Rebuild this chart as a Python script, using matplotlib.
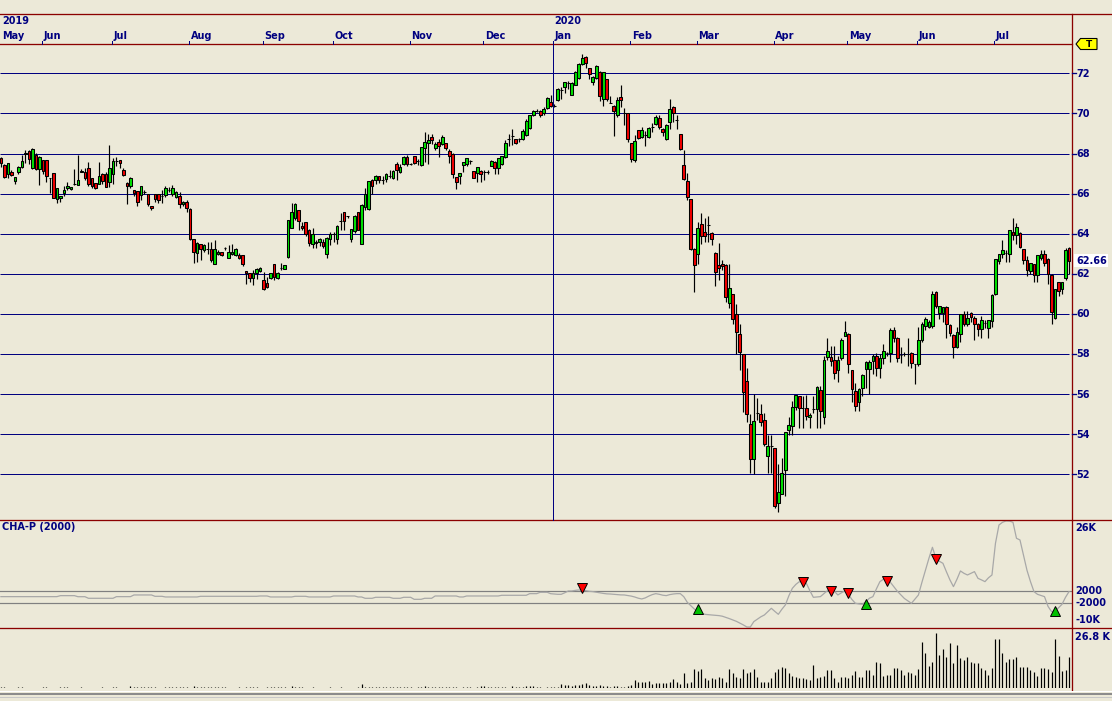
import matplotlib
matplotlib.use('Agg')
import matplotlib.pyplot as plt
import numpy as np
import pandas as pd
from matplotlib.patches import Polygon, Rectangle

# ---------------- data ----------------
holidays = ['2019-05-20', '2019-07-01', '2019-08-05', '2019-09-02', '2019-10-14',
            '2019-12-25', '2019-12-26', '2020-01-01', '2020-02-17', '2020-04-10',
            '2020-05-18', '2020-07-01']
dates = pd.bdate_range('2019-05-15', '2020-07-31')
dates = dates[~dates.isin(pd.to_datetime(holidays))]

opens = [
    67.80, 67.42, 67.00, 67.09, 66.64, 67.09, 67.35, 68.00, 68.13, 67.30,
    67.92, 67.22, 67.67, 67.70, 66.80, 67.05, 65.72, 65.76, 66.04, 66.29,
    66.25, 66.49, 66.45, 67.10, 67.10, 67.30, 66.80, 66.55, 66.50, 67.00,
    67.00, 66.60, 67.00, 67.62, 67.67, 67.20, 66.55, 66.39, 66.17, 66.12,
    65.95, 66.09, 65.97, 65.36, 65.97, 66.00, 65.90, 65.94, 66.20, 66.00,
    65.84, 65.86, 65.46, 65.56, 65.25, 63.76, 63.03, 63.48, 63.20, 63.26,
    63.26, 62.51, 63.00, 63.08, 63.30, 62.78, 62.98, 62.95, 62.95, 62.93,
    62.15, 62.03, 61.78, 62.06, 62.16, 61.70, 61.53, 61.80, 62.50, 61.80,
    62.30, 62.26, 62.85, 64.30, 64.80, 65.17, 64.40, 64.60, 64.20, 63.50,
    63.55, 63.60, 63.60, 63.00, 63.76, 63.97, 63.76, 64.65, 65.10, 64.86,
    63.73, 64.14, 65.10, 63.50, 65.34, 65.25, 66.70, 66.70, 66.86, 66.70,
    66.72, 66.90, 66.78, 67.49, 67.10, 67.47, 67.82, 67.49, 67.88, 67.65,
    67.41, 68.30, 68.52, 68.82, 68.27, 68.57, 68.48, 68.52, 68.14, 67.98,
    66.83, 66.86, 67.41, 67.47, 67.62, 67.14, 67.02, 67.14, 67.07, 67.10,
    67.39, 67.60, 67.30, 67.47, 67.85, 68.75, 68.90, 68.72, 68.72, 68.72,
    68.93, 69.25, 69.91, 70.12, 70.12, 70.03, 70.25, 70.55, 70.38, 70.67,
    71.17, 71.34, 71.50, 70.92, 71.42, 71.75, 72.46, 72.80, 72.25, 71.59,
    71.75, 72.08, 70.70, 71.70, 70.54, 70.37, 69.90, 70.80, 70.00, 70.00,
    68.52, 67.69, 69.15, 68.85, 68.93, 68.85, 69.30, 69.46, 69.76, 69.23,
    68.72, 69.56, 70.31, 69.68, 68.97, 67.44, 66.64, 65.73, 63.24, 62.99,
    64.50, 64.07, 64.42, 64.04, 63.04, 62.46, 62.50, 62.42, 60.55, 61.00,
    59.97, 59.00, 58.00, 56.67, 54.50, 52.75, 55.05, 55.00, 54.72, 52.90,
    53.40, 53.30, 50.55, 51.00, 52.22, 54.18, 54.42, 55.33, 55.88, 55.30,
    55.30, 54.85, 55.25, 55.25, 56.22, 54.85, 57.85, 57.85, 57.72, 57.22,
    57.80, 58.92, 59.00, 57.20, 56.17, 55.58, 56.30, 57.25, 57.25, 57.63,
    57.92, 57.30, 57.80, 58.05, 58.05, 59.17, 58.80, 57.97, 58.00, 58.00,
    58.05, 57.50, 57.50, 58.68, 59.38, 59.35, 59.38, 61.10, 60.05, 60.05,
    60.35, 59.42, 58.97, 58.35, 59.00, 60.00, 59.50, 60.05, 59.77, 59.50,
    59.22, 59.55, 59.30, 59.63, 61.00, 62.63, 63.00, 63.05, 62.97, 64.08,
    63.92, 64.05, 63.25, 62.67, 62.13, 62.50, 61.93, 62.80, 62.97, 62.72,
    61.92, 59.80, 61.58, 61.25, 61.80, 63.30]

highs = [
    67.85, 67.50, 67.55, 67.20, 66.85, 67.40, 67.92, 68.20, 68.20, 68.27,
    68.05, 67.90, 67.70, 67.70, 66.80, 67.05, 66.30, 65.90, 66.40, 66.60,
    66.35, 67.25, 67.92, 67.25, 67.30, 67.60, 66.80, 66.55, 67.60, 67.05,
    67.10, 68.42, 67.80, 67.85, 67.67, 67.30, 66.60, 66.85, 66.20, 66.12,
    66.40, 66.20, 65.97, 65.36, 65.97, 66.00, 66.20, 66.40, 66.35, 66.45,
    66.15, 66.10, 65.65, 65.70, 65.30, 63.76, 63.60, 63.50, 63.50, 63.60,
    63.60, 63.70, 63.20, 63.10, 63.35, 63.45, 63.50, 63.30, 63.05, 62.95,
    62.15, 62.05, 62.20, 62.30, 62.32, 62.10, 61.85, 62.05, 62.50, 62.10,
    62.56, 62.46, 64.67, 65.55, 65.55, 65.20, 64.60, 64.60, 64.25, 64.30,
    63.70, 63.80, 63.76, 63.82, 64.10, 64.10, 64.45, 65.05, 65.10, 64.90,
    64.25, 64.95, 65.10, 65.50, 66.30, 66.62, 66.75, 66.95, 66.90, 66.90,
    67.05, 67.20, 67.20, 67.60, 67.50, 67.90, 67.95, 67.55, 67.90, 67.75,
    68.35, 69.06, 69.00, 69.00, 68.60, 68.75, 68.95, 68.55, 68.25, 68.05,
    66.85, 67.05, 67.60, 67.80, 67.70, 67.15, 67.35, 67.20, 67.20, 67.20,
    67.70, 67.65, 67.78, 67.90, 68.70, 69.00, 69.20, 68.75, 68.80, 69.20,
    69.70, 69.92, 70.15, 70.20, 70.15, 70.30, 70.80, 70.90, 70.45, 71.25,
    71.30, 71.58, 71.60, 71.55, 72.10, 72.50, 72.95, 72.85, 72.25, 71.85,
    72.40, 72.10, 72.05, 71.70, 70.85, 70.40, 70.80, 71.40, 70.25, 70.00,
    68.52, 68.95, 69.15, 69.30, 69.10, 69.30, 69.50, 69.90, 69.90, 69.25,
    69.45, 70.70, 70.35, 69.90, 68.97, 68.20, 67.05, 65.75, 63.30, 64.60,
    65.05, 64.80, 64.90, 64.10, 63.10, 63.55, 62.70, 62.50, 62.50, 61.00,
    60.50, 59.50, 58.00, 57.30, 55.00, 56.00, 55.80, 55.50, 55.05, 53.95,
    53.95, 53.30, 52.50, 52.80, 54.10, 54.85, 55.67, 55.93, 55.90, 55.88,
    55.97, 55.05, 55.88, 56.38, 56.38, 57.88, 58.80, 58.38, 58.38, 57.88,
    58.80, 59.63, 59.05, 57.20, 56.55, 56.30, 57.00, 57.65, 57.70, 58.00,
    58.05, 58.00, 58.50, 58.10, 59.30, 59.35, 58.85, 58.33, 58.10, 58.80,
    58.10, 57.50, 59.35, 59.60, 59.85, 59.70, 61.15, 61.15, 60.40, 60.33,
    60.38, 59.50, 59.00, 59.33, 60.00, 60.15, 60.15, 60.10, 59.90, 59.55,
    59.90, 59.70, 59.70, 61.00, 62.75, 63.00, 63.70, 63.20, 64.17, 64.80,
    64.55, 64.10, 63.25, 62.90, 62.55, 62.50, 62.92, 63.20, 63.20, 62.80,
    62.00, 61.25, 61.60, 61.60, 63.30, 63.33]

lows = [
    67.35, 66.80, 66.80, 66.90, 66.50, 67.00, 67.30, 67.55, 67.50, 67.25,
    67.20, 66.45, 67.00, 66.60, 66.05, 65.80, 65.55, 65.60, 65.90, 66.20,
    66.20, 66.45, 66.45, 67.10, 66.70, 66.40, 66.30, 66.25, 66.50, 66.50,
    66.35, 66.35, 66.50, 67.40, 67.30, 66.90, 65.47, 66.30, 65.90, 65.40,
    65.70, 66.00, 65.40, 65.20, 65.60, 65.55, 65.55, 65.85, 66.10, 65.90,
    65.80, 65.30, 65.40, 65.10, 63.70, 62.56, 62.60, 62.70, 63.10, 63.00,
    62.60, 62.50, 62.95, 62.90, 63.20, 62.78, 62.95, 62.90, 62.75, 62.40,
    61.50, 61.60, 61.45, 61.75, 62.10, 61.20, 61.30, 61.75, 61.70, 61.75,
    62.20, 62.25, 62.80, 64.30, 64.70, 64.20, 64.20, 63.90, 63.40, 63.30,
    63.30, 63.40, 63.30, 62.80, 63.45, 63.60, 63.50, 64.20, 64.20, 64.80,
    63.60, 64.05, 64.20, 63.50, 65.20, 65.20, 66.00, 66.50, 66.55, 66.50,
    66.60, 66.80, 66.75, 66.67, 67.05, 67.45, 67.40, 67.45, 67.50, 67.45,
    67.40, 67.60, 67.50, 68.50, 68.20, 67.85, 68.45, 68.20, 67.55, 66.80,
    66.25, 66.50, 67.10, 67.40, 67.50, 66.80, 66.60, 66.60, 66.70, 67.00,
    67.38, 67.00, 67.00, 67.45, 67.80, 68.40, 68.45, 68.50, 68.60, 68.70,
    68.90, 69.20, 69.85, 70.05, 69.80, 69.90, 70.20, 70.30, 70.30, 70.60,
    70.70, 71.00, 71.20, 70.90, 71.40, 71.70, 72.40, 72.25, 71.70, 71.40,
    71.70, 70.60, 70.37, 70.60, 70.50, 68.90, 69.80, 70.30, 69.43, 68.60,
    67.60, 67.60, 68.72, 68.80, 68.40, 68.80, 69.05, 69.40, 69.20, 68.90,
    68.70, 69.20, 69.55, 69.20, 68.20, 66.70, 65.70, 63.20, 61.10, 62.50,
    63.50, 63.60, 63.60, 63.45, 61.40, 61.70, 62.20, 60.60, 60.30, 59.47,
    58.00, 57.20, 55.10, 54.60, 52.05, 52.00, 54.70, 54.40, 53.40, 52.05,
    52.05, 50.30, 50.10, 51.00, 50.90, 53.97, 53.97, 55.20, 54.30, 54.30,
    54.70, 54.30, 55.05, 54.30, 54.30, 54.50, 57.70, 57.38, 56.75, 56.60,
    57.70, 58.90, 57.05, 55.60, 55.13, 55.13, 55.90, 56.30, 56.00, 57.00,
    56.90, 56.80, 57.50, 57.90, 57.60, 58.60, 57.60, 57.55, 57.90, 57.40,
    57.30, 56.50, 57.40, 58.60, 59.20, 59.30, 59.30, 60.30, 59.75, 59.60,
    58.80, 58.90, 57.80, 58.30, 58.60, 59.40, 59.40, 59.60, 58.70, 58.90,
    58.80, 59.30, 58.80, 59.35, 60.95, 62.50, 62.80, 62.60, 62.60, 63.70,
    63.50, 63.30, 62.50, 61.90, 62.00, 61.60, 61.60, 62.70, 62.40, 61.50,
    59.50, 59.75, 60.90, 61.00, 61.70, 62.00]

closes = [
    67.55, 66.85, 67.55, 66.95, 66.85, 67.35, 67.63, 68.05, 67.75, 68.25,
    67.22, 67.85, 67.15, 66.87, 66.79, 65.80, 66.30, 65.90, 66.17, 66.40,
    66.35, 66.50, 66.70, 67.12, 66.79, 66.50, 66.39, 66.30, 66.90, 66.62,
    66.35, 67.30, 67.62, 67.62, 67.53, 66.94, 66.39, 66.80, 66.05, 65.59,
    66.40, 66.09, 65.49, 65.27, 65.72, 65.69, 65.90, 66.30, 66.20, 66.30,
    66.10, 65.46, 65.57, 65.26, 63.73, 63.10, 63.56, 63.23, 63.43, 63.26,
    62.70, 63.26, 63.10, 62.95, 63.30, 63.10, 63.08, 63.26, 62.81, 62.51,
    62.03, 61.77, 62.06, 62.26, 62.30, 61.23, 61.35, 62.02, 61.84, 62.06,
    62.30, 62.46, 64.67, 65.10, 65.50, 64.64, 64.26, 64.00, 63.56, 64.00,
    63.60, 63.76, 63.40, 63.80, 64.00, 63.97, 64.40, 64.65, 64.64, 64.86,
    64.22, 64.90, 64.20, 65.44, 66.00, 66.62, 66.36, 66.90, 66.66, 66.70,
    66.99, 66.90, 67.14, 67.19, 67.32, 67.85, 67.49, 67.49, 67.55, 67.65,
    68.32, 68.57, 68.68, 68.68, 68.48, 68.38, 68.82, 68.27, 67.90, 66.97,
    66.56, 67.03, 67.57, 67.77, 67.62, 66.80, 67.32, 66.98, 67.07, 67.10,
    67.64, 67.27, 67.77, 67.89, 68.52, 68.75, 68.90, 68.55, 68.72, 69.10,
    69.63, 69.91, 70.14, 70.12, 69.91, 70.20, 70.75, 70.38, 70.38, 71.20,
    71.17, 71.55, 71.50, 71.50, 72.08, 72.45, 72.75, 72.50, 71.95, 71.83,
    72.36, 70.89, 72.05, 70.70, 70.54, 70.10, 70.67, 70.69, 70.00, 68.72,
    67.72, 68.63, 68.77, 69.15, 68.93, 69.26, 69.30, 69.80, 69.31, 69.06,
    69.43, 70.21, 70.00, 69.68, 68.22, 66.73, 65.83, 63.24, 62.45, 64.29,
    63.87, 63.90, 64.42, 63.74, 62.08, 62.30, 62.40, 60.83, 61.27, 59.72,
    59.08, 58.08, 56.10, 55.00, 52.75, 54.67, 55.05, 54.60, 53.50, 53.43,
    53.40, 50.42, 51.10, 52.05, 54.10, 54.43, 55.33, 55.93, 55.30, 55.30,
    54.92, 54.97, 55.25, 56.33, 55.17, 57.72, 58.13, 57.63, 57.05, 57.72,
    58.72, 59.08, 57.50, 56.25, 55.38, 56.25, 56.97, 57.60, 57.60, 57.88,
    57.30, 57.80, 58.17, 58.05, 59.17, 58.80, 57.80, 57.97, 58.00, 58.00,
    57.55, 57.50, 58.68, 59.50, 59.75, 59.60, 61.00, 60.38, 60.38, 60.33,
    59.50, 59.05, 58.35, 59.10, 60.00, 59.50, 59.80, 59.83, 59.47, 59.22,
    59.68, 59.55, 59.67, 60.92, 62.75, 62.97, 63.17, 63.05, 64.17, 63.92,
    64.33, 63.33, 62.67, 62.17, 62.55, 61.93, 62.92, 62.97, 62.55, 61.97,
    60.08, 61.22, 61.13, 61.60, 63.18, 62.66]

volumes = [
    450, 450, 0, 0, 0, 450, 450, 0, 0, 0,
    0, 0, 450, 450, 0, 0, 0, 450, 450, 450,
    0, 0, 0, 450, 0, 0, 0, 0, 0, 450,
    0, 0, 450, 450, 0, 0, 0, 1050, 450, 450,
    450, 450, 450, 450, 450, 0, 0, 450, 450, 450,
    450, 450, 450, 450, 0, 1200, 450, 450, 450, 450,
    450, 450, 450, 450, 450, 0, 0, 0, 450, 0,
    450, 450, 450, 450, 0, 0, 450, 450, 450, 450,
    450, 450, 0, 1000, 450, 450, 450, 0, 0, 450,
    0, 0, 0, 0, 450, 0, 0, 450, 0, 0,
    0, 0, 450, 1800, 450, 600, 450, 600, 450, 450,
    600, 450, 600, 450, 450, 600, 450, 450, 0, 450,
    600, 1200, 450, 600, 450, 600, 450, 450, 600, 450,
    450, 0, 450, 600, 450, 0, 450, 1200, 1050, 450,
    600, 450, 450, 600, 450, 0, 1200, 450, 450, 450,
    900, 1050, 900, 450, 450, 0, 450, 600, 745, 745,
    1788, 1341, 1490, 1192, 1341, 1639, 1937, 2384, 1341, 1192,
    1043, 1490, 1043, 1043, 596, 894, 894, 596, 596, 1043,
    1490, 3725, 2831, 2831, 2682, 3278, 1788, 2235, 2384, 2384,
    2384, 2980, 4172, 2980, 1788, 6705, 2235, 2682, 8642, 7748,
    8642, 4768, 3725, 4768, 4172, 5066, 4470, 2980, 8791, 6705,
    5215, 4470, 8642, 6705, 7152, 8642, 5215, 2980, 2682, 2980,
    4470, 7450, 8493, 9536, 9238, 7003, 5513, 5215, 4470, 4470,
    4172, 3725, 10430, 4768, 5215, 5513, 8195, 8195, 4470, 2980,
    4917, 4917, 4768, 5960, 7748, 5215, 4917, 8195, 8195, 5960,
    11771, 11473, 5662, 5960, 5960, 9089, 8940, 8195, 5960, 7152,
    6705, 5960, 8791, 20860, 15645, 9983, 11622, 24734, 14900, 17582,
    13857, 20115, 11175, 19370, 13708, 12814, 14155, 11920, 11175, 11175,
    9238, 8195, 5960, 9238, 22052, 22052, 15645, 11622, 13112, 13112,
    13857, 9536, 9685, 9536, 8195, 7450, 5513, 8940, 8940, 8642,
    7450, 22052, 14453, 7748, 8344, 14006]

cha = [
    220, 220, 220, 220, 220, 220, 220, 220, 220, 220,
    220, 220, 220, 220, 220, 220, 220, 550, 550, 550,
    550, 550, 200, 200, 200, -330, -330, -330, -330, -330,
    -330, -330, -330, 220, 220, 220, 220, 220, 780, 780,
    780, 780, 780, 780, 330, 330, 330, 110, 110, 110,
    110, 110, 110, 110, 110, 110, 110, 330, 330, 330,
    330, 330, 330, 330, 330, 330, 330, 330, 330, 330,
    330, 330, 330, 330, 440, 440, 440, 110, 110, 110,
    110, 110, 110, 110, 330, 330, 330, 330, 110, 110,
    110, 110, 110, 110, 110, 440, 440, 440, 440, 440,
    440, 440, 110, 110, -330, -330, -330, 0, 0, 0,
    0, 0, -330, -330, -330, 0, 0, 0, -670, -670,
    -670, -330, -330, -330, 440, 440, 440, 440, 440, 440,
    440, 110, 110, 440, 440, 440, 440, 440, 440, 440,
    440, 440, 440, 670, 670, 670, 670, 670, 670, 670,
    670, 1220, 1220, 1220, 1670, 1670, 1670,
    1200, 1100, 1000, 1000, 1500, 2100, 2100, 2300, 2450, 2400,
    2200, 2000, 1900, 1700, 1500, 1300, 1150, 1100, 1000, 900,
    800, 780, 600, 400, 100, -300, -550, -200, 400, 900,
    1220, 1000, 700, 560, 900, 1100, 1220, 1220, 200, -1670,
    -2800, -3900, -4700, -5300, -5670, -5800, -5900, -6000, -6100, -6300,
    -6700, -7100, -7550, -8000, -8600, -9200, -9890, -9900, -8100, -7300,
    -6500, -5900, -4800, -3670, -4700, -5670, -4000, -2550, 500, 3000,
    4300, 5220, 5000, 4670, 2200, 0, 100, 220, 1200, 2200,
    3220, 2000, 780, 1500, 2110, 1000, -700, -2000, -2200, -2330,
    -1500, -300, 222, 2800, 5220, 6000, 6330, 5000, 3500, 2000,
    780, -400, -1200, -2000, -600, 780, 5000, 9000, 13000, 16670,
    13000, 12000, 11330, 8500, 5800, 3560, 6000, 8780, 8000, 7440,
    8000, 8560, 6330, 5800, 5220, 6500, 7440, 18000, 24100, 25000,
    25440, 25400, 25000, 19670, 19110, 14000, 9000, 5220, 1890, 1000,
    600, 222, -3000, -4780, -4600, -3500, -2330, 0, 1890]

sell_idx = [166, 229, 237, 242, 253, 267]
sell_val = [3222, 5222, 2111, 1556, 5555, 12667]
buy_idx = [199, 247, 301]
buy_val = [-4000, -2222, -4555]

price_ticks = [52, 54, 56, 58, 60, 62, 64, 66, 68, 70, 72]
last_price = 62.66
indicator_name = 'CHA-P (2000)'
indicator_labels = ['26K', '2000', '-2000', '-10K']
indicator_levels = [2000, -2000]
volume_label = '26.8 K'

# ---------------- layout (pixels) ----------------
W, H = 1112, 701
BG = '#ECE9D8'
NAVY = '#000080'
DRED = '#8B0000'
PX = 0.72  # one pixel in points at 100 dpi
X0, DX = 0.9, 3.502          # bar index -> pixel
RIGHT = 1072
PY0, PS = 73.38, 20.04       # price -> pixel row


def price_to_y(p):
    return PY0 + (72 - p) * PS


def y_to_price(y):
    return 72 - (y - PY0) / PS


fig = plt.figure(figsize=(W / 100, H / 100), dpi=100, facecolor=BG)


def px_axes(x0, y0, x1, y1, z=1):
    ax = fig.add_axes([x0 / W, 1 - y1 / H, (x1 - x0) / W, (y1 - y0) / H], zorder=z)
    ax.set_xlim((x0 - X0) / DX, (x1 - X0) / DX)
    ax.axis('off')
    ax.patch.set_alpha(0)
    return ax


n = len(closes)
x = np.arange(n)
o = np.array(opens)
h = np.array(highs)
l = np.array(lows)
c = np.array(closes)

# ---- price panel ----
axp = px_axes(0, 44, RIGHT, 520, z=2)
axp.set_ylim(y_to_price(520), y_to_price(44))
gx1 = (1069 - X0) / DX
gx0 = (0 - X0) / DX
for p in price_ticks:
    axp.plot([gx0, gx1], [p, p], color=NAVY, lw=PX, zorder=1, solid_capstyle='butt')
axp.vlines(x, l, h, color='black', lw=0.85, zorder=2)
cols = ['#00E000' if cc > oo else ('#F00000' if cc < oo else 'black') for oo, cc in zip(o, c)]
axp.bar(x, c - o, bottom=o, width=0.78, color=cols, edgecolor='black', linewidth=0.75, zorder=3)

# ---- indicator panel ----
axi = px_axes(0, 520, RIGHT, 628, z=2)
axi.set_ylim(-10233, 25767)
for lv in indicator_levels:
    axi.plot([gx0, (RIGHT - X0) / DX], [lv, lv], color='#808080', lw=PX * 1.2, zorder=1)
axi.plot(x, cha, color='#A8A8A8', lw=0.9, zorder=2)
axi.plot(sell_idx, sell_val, linestyle='none', marker='v', markersize=7.5,
         markerfacecolor='#FF0000', markeredgecolor='black', markeredgewidth=0.7, zorder=3)
axi.plot(buy_idx, buy_val, linestyle='none', marker='^', markersize=7.5,
         markerfacecolor='#00C000', markeredgecolor='black', markeredgewidth=0.7, zorder=3)

# ---- volume panel ----
axv = px_axes(0, 628, RIGHT, 688.3, z=2)
axv.set_ylim(0, 26950)
axv.vlines(x, 0, volumes, color='black', lw=PX * 1.2)

# ---- overlay (frame, labels) ----
ov = fig.add_axes([0, 0, 1, 1], zorder=5)
ov.set_xlim(0, W)
ov.set_ylim(H, 0)
ov.axis('off')
ov.patch.set_alpha(0)

lw1 = PX * 1.3
ov.plot([0, W], [14, 14], color=DRED, lw=lw1)
ov.plot([0, RIGHT], [44, 44], color=DRED, lw=lw1)
ov.plot([0, W], [520, 520], color=DRED, lw=lw1)
ov.plot([0, W], [628, 628], color=DRED, lw=lw1)
ov.plot([RIGHT, RIGHT], [14, 690], color=DRED, lw=lw1)
ov.plot([0, W], [690.5, 690.5], color='#FFFFFF', lw=PX)
ov.plot([0, W], [693.5, 693.5], color='#8C8C8C', lw=PX * 2)
ov.plot([0, W], [696.5, 696.5], color='#C8C8C8', lw=PX)

tkw = dict(fontsize=7, fontweight='bold', color=NAVY, family='DejaVu Sans')


def bar_px(i):
    return X0 + DX * i


ov.text(2, 21, str(dates[0].year), ha='left', va='center', **tkw)
ov.text(2, 36, dates[0].strftime('%b'), ha='left', va='center', **tkw)
for i in range(1, n):
    if dates[i].month != dates[i - 1].month:
        xp = bar_px(i) - 1
        ov.plot([xp, xp], [41, 44], color=NAVY, lw=PX)
        ov.text(xp + 1.5, 36, dates[i].strftime('%b'), ha='left', va='center', **tkw)
        if dates[i].year != dates[i - 1].year:
            ov.text(xp + 1, 21, str(dates[i].year), ha='left', va='center', **tkw)
            ov.plot([xp, xp], [44, 520], color=NAVY, lw=PX)

for p in price_ticks:
    yp = price_to_y(p)
    ov.plot([RIGHT, RIGHT + 3.5], [yp, yp], color=NAVY, lw=PX * 1.3)
    ov.text(RIGHT + 4, yp + 0.5, f'{p}', ha='left', va='center', **tkw)

ov.add_patch(Rectangle((1074, 254), 34, 13, facecolor='white', edgecolor='none'))
ov.text(1076, 261, f'{last_price:.2f}', ha='left', va='center', **tkw)

ov.add_patch(Polygon([(1076, 44), (1080.5, 38.5), (1097, 38.5), (1097, 49.5), (1080.5, 49.5)],
                     closed=True, facecolor='#FFFF00', edgecolor='black', lw=0.8))
ov.text(1088.5, 44.3, 'T', ha='center', va='center', fontsize=6.5, fontweight='bold',
        color='black', family='DejaVu Sans')

ov.text(2, 527, indicator_name, ha='left', va='center', **tkw)
for s, yp in zip(indicator_labels, [528, 591, 603, 620]):
    ov.text(1075, yp, s, ha='left', va='center', **tkw)

ov.text(1075, 637, volume_label, ha='left', va='center', **tkw)

fig.savefig('out.png', dpi=100, facecolor=BG)
